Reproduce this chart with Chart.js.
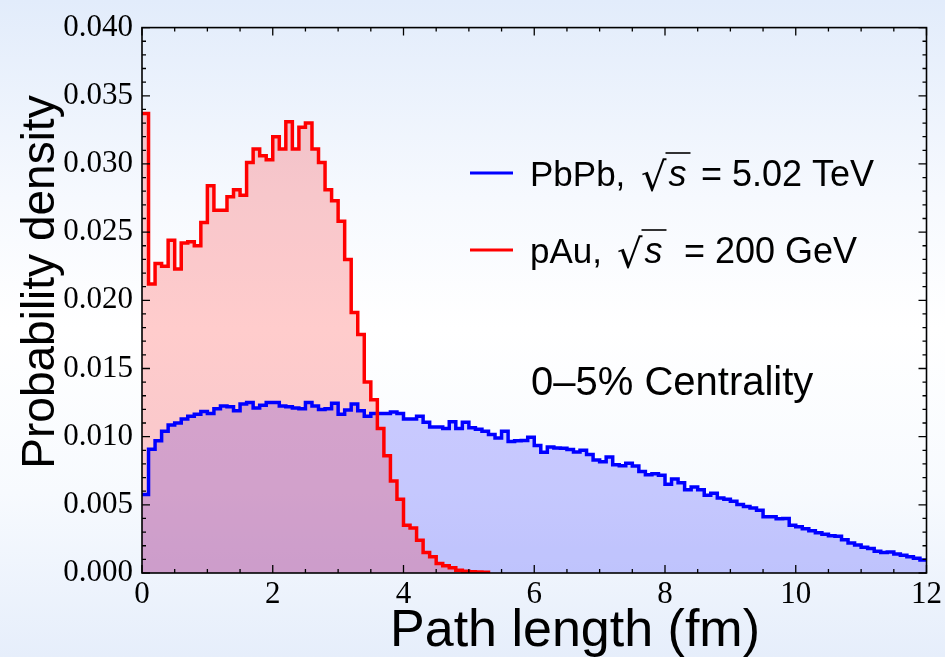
<!DOCTYPE html>
<html>
<head>
<meta charset="utf-8">
<script src="https://cdn.jsdelivr.net/npm/chart.js@4.4.1/dist/chart.umd.min.js"></script>
<style>
  html, body { margin: 0; padding: 0; }
  body {
    width: 945px; height: 657px; overflow: hidden;
    background: linear-gradient(to bottom, #e2ecfb 0%, #f6f9fe 30%, #ffffff 50%, #f7fafe 75%, #e6eefb 100%);
  }
</style>
</head>
<body>
<canvas id="pathChart" width="945" height="657"></canvas>
<script>
// histogram bins of 0.1 fm starting at 0
const binWidth = 0.1;
const xMax = 12;

const pbpbDensity = [
  0.00575, 0.00907, 0.00970, 0.01040, 0.01085, 0.01100, 0.01130, 0.01150, 0.01165, 0.01185,
  0.01170, 0.01205, 0.01225, 0.01220, 0.01190, 0.01240, 0.01250, 0.01210, 0.01230, 0.01250,
  0.01250, 0.01225, 0.01220, 0.01210, 0.01205, 0.01250, 0.01225, 0.01200, 0.01205, 0.01245,
  0.01165, 0.01195, 0.01240, 0.01190, 0.01150, 0.01170, 0.01170, 0.01170, 0.01180, 0.01170,
  0.01130, 0.01130, 0.01150, 0.01105, 0.01070, 0.01070, 0.01060, 0.01110, 0.01060, 0.01105,
  0.01065, 0.01055, 0.01040, 0.01015, 0.00990, 0.01040, 0.00965, 0.00970, 0.00972, 0.00996,
  0.00936, 0.00885, 0.00924, 0.00917, 0.00915, 0.00905, 0.00888, 0.00900, 0.00870, 0.00828,
  0.00816, 0.00850, 0.00794, 0.00786, 0.00804, 0.00784, 0.00744, 0.00720, 0.00727, 0.00717,
  0.00650, 0.00690, 0.00662, 0.00610, 0.00630, 0.00610, 0.00570, 0.00585, 0.00550, 0.00540,
  0.00527, 0.00503, 0.00487, 0.00477, 0.00460, 0.00412, 0.00413, 0.00398, 0.00400, 0.00350,
  0.00340, 0.00325, 0.00310, 0.00295, 0.00285, 0.00274, 0.00270, 0.00243, 0.00220, 0.00205,
  0.00188, 0.00180, 0.00160, 0.00150, 0.00154, 0.00140, 0.00130, 0.00120, 0.00108, 0.00095
];

const pauDensity = [
  0.0337, 0.0212, 0.0227, 0.0225, 0.0244, 0.0223, 0.0242, 0.0243, 0.0240, 0.0257,
  0.0284, 0.0266, 0.0266, 0.0276, 0.0281, 0.0277, 0.0301, 0.0311, 0.0306, 0.0303,
  0.0320, 0.0311, 0.0331, 0.0311, 0.0327, 0.0330, 0.0311, 0.0301, 0.0281, 0.0273,
  0.0258, 0.0230, 0.0191, 0.0175, 0.0140, 0.0127, 0.0106, 0.0086, 0.00675, 0.0054,
  0.0035, 0.0033, 0.0024, 0.0015, 0.0012, 0.0007, 0.00053, 0.00038, 0.0002, 0.00012,
  0.0001, 0.00008, 0.00006
];

const xTickValues = [0, 2, 4, 6, 8, 10, 12];
const yTickStep = 0.005;
const yMax = 0.040;

// step points at the left edge of each bin, plus one closing point
function histPoints(vals, dropToZero) {
  const pts = vals.map((v, i) => ({ x: i * binWidth, y: v }));
  pts.push({ x: vals.length * binWidth, y: dropToZero ? 0 : vals[vals.length - 1] });
  return pts;
}

const frameTicks = {
  id: 'frameTicks',
  afterDatasetsDraw(chart) {
    const { ctx, chartArea: a, scales: { x, y } } = chart;
    ctx.save();
    ctx.strokeStyle = '#000';
    ctx.lineWidth = 1.6;
    ctx.strokeRect(a.left, a.top, a.right - a.left, a.bottom - a.top);
    ctx.lineWidth = 1.3;
    ctx.beginPath();
    for (let v = 0; v <= xMax + 1e-9; v += 0.5) {
      const px = x.getPixelForValue(v);
      const len = Math.abs(v % 2) < 1e-6 ? 8 : 4;
      ctx.moveTo(px, a.bottom); ctx.lineTo(px, a.bottom - len);
      ctx.moveTo(px, a.top); ctx.lineTo(px, a.top + len);
    }
    for (let i = 0; i <= 40; i++) {
      const py = y.getPixelForValue(i * 0.001);
      const len = i % 5 === 0 ? 8 : 4;
      ctx.moveTo(a.left, py); ctx.lineTo(a.left + len, py);
      ctx.moveTo(a.right, py); ctx.lineTo(a.right - len, py);
    }
    ctx.stroke();
    ctx.restore();
  }
};

function sqrtLabel(ctx, name, rootX, rest, restX, baseY, lineY, color) {
  ctx.strokeStyle = color;
  ctx.lineWidth = 3;
  ctx.beginPath();
  ctx.moveTo(470, lineY); ctx.lineTo(513, lineY);
  ctx.stroke();

  ctx.fillStyle = '#000';
  ctx.font = '35px "Liberation Sans"';
  ctx.fillText(name, 530, baseY);
  ctx.font = '40px "DejaVu Sans"';
  ctx.fillText('\u221A', rootX, baseY + 5);
  const rw = ctx.measureText('\u221A').width;
  ctx.font = 'italic 36px "Liberation Sans"';
  ctx.fillText('s', rootX + rw + 2, baseY);
  const sw = ctx.measureText('s').width;
  ctx.strokeStyle = '#000';
  ctx.lineWidth = 1.6;
  ctx.beginPath();
  ctx.moveTo(rootX + rw - 1, baseY - 33);
  ctx.lineTo(rootX + rw + sw + 6, baseY - 33);
  ctx.stroke();
  ctx.font = '36px "Liberation Sans"';
  ctx.fillText(rest, restX, baseY);
}

const notes = {
  id: 'notes',
  afterDraw(chart) {
    const ctx = chart.ctx;
    ctx.save();
    ctx.textBaseline = 'alphabetic';
    sqrtLabel(ctx, 'PbPb,', 641, '= 5.02 TeV', 701, 186, 173, '#0000ff');
    sqrtLabel(ctx, 'pAu,', 617, '= 200 GeV', 684, 263, 250, '#ff0000');
    ctx.fillStyle = '#000';
    ctx.font = '40px "Liberation Sans"';
    ctx.fillText('0\u20135% Centrality', 531, 395);

    // axis titles
    ctx.font = '52px "Liberation Sans"';
    ctx.textAlign = 'center';
    ctx.fillText('Path length (fm)', 575, 646);
    ctx.translate(54, 282);
    ctx.rotate(-Math.PI / 2);
    ctx.font = '46px "Liberation Sans"';
    ctx.fillText('Probability density', 0, 0);
    ctx.restore();
  }
};

const ctx = document.getElementById('pathChart');
new Chart(ctx, {
  type: 'line',
  data: {
    datasets: [
      {
        label: 'pAu, \u221As = 200 GeV',
        data: histPoints(pauDensity, true),
        borderColor: '#ff0000',
        backgroundColor: 'rgba(255,0,0,0.2)',
        fill: 'origin',
        stepped: 'before',
        borderWidth: 3.5,
        pointRadius: 0,
        order: 0
      },
      {
        label: 'PbPb, \u221As = 5.02 TeV',
        data: histPoints(pbpbDensity, false),
        borderColor: '#0000ff',
        backgroundColor: 'rgba(0,0,255,0.2)',
        fill: 'origin',
        stepped: 'before',
        borderWidth: 3.5,
        pointRadius: 0,
        order: 1
      }
    ]
  },
  options: {
    responsive: false,
    animation: false,
    layout: { padding: { top: 19, right: 15, left: 0, bottom: 0 } },
    plugins: {
      legend: { display: false },
      tooltip: { enabled: false },
      filler: { drawTime: 'beforeDatasetsDraw' }
    },
    scales: {
      x: {
        type: 'linear', min: 0, max: xMax,
        grid: { display: false, drawTicks: false },
        border: { display: false },
        afterBuildTicks: s => { s.ticks = xTickValues.map(v => ({ value: v })); },
        ticks: { color: '#000', padding: 3, maxRotation: 0, font: { family: 'Liberation Serif', size: 31 }, callback: v => String(v) },
        afterFit: s => { s.height = 84; }
      },
      y: {
        min: 0, max: yMax,
        grid: { display: false, drawTicks: false },
        border: { display: false },
        ticks: { stepSize: yTickStep, color: '#000', padding: 9, font: { family: 'Liberation Serif', size: 31 }, callback: v => v.toFixed(3) },
        afterFit: s => { s.width = 142; }
      }
    }
  },
  plugins: [frameTicks, notes]
});
</script>
</body>
</html>
